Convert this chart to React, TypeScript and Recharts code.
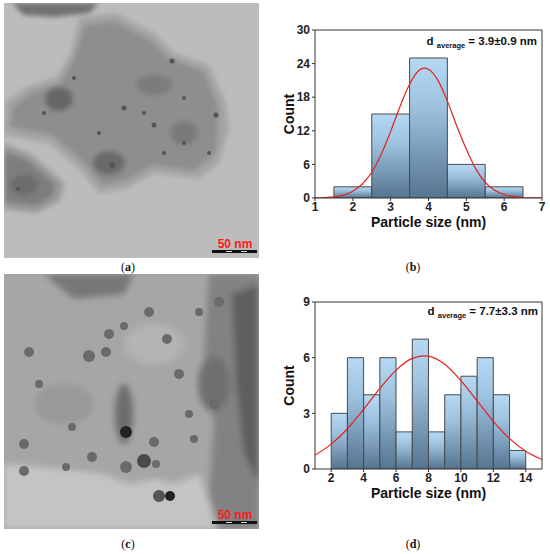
import React from 'react';
import {
  ComposedChart,
  Bar,
  Line,
  XAxis,
  YAxis,
  ReferenceLine,
} from 'recharts';

// panel (b): histogram bins (centre, count) and the Gaussian fit
const binsB = [2, 3, 4, 5, 6];
const countsB = [2, 15, 25, 6, 2];
const fitXB = [1, 1.25, 1.5, 1.75, 2, 2.25, 2.5, 2.75, 3, 3.25, 3.5, 3.75, 3.9, 4, 4.25, 4.5, 4.75, 5, 5.25, 5.5, 5.75, 6, 6.25, 6.5, 6.75, 7];
const fitYB = [0.02, 0.07, 0.2, 0.52, 1.2, 2.5, 4.6, 7.8, 11.9, 16.4, 20.3, 22.8, 23.2, 23.0, 21.0, 17.3, 12.8, 8.7, 5.2, 2.8, 1.4, 0.62, 0.25, 0.09, 0.03, 0.01];
const xTicksB = [1, 2, 3, 4, 5, 6, 7];
const yTicksB = [0, 6, 12, 18, 24, 30];

// panel (d)
const binsD = [2.5, 3.5, 4.5, 5.5, 6.5, 7.5, 8.5, 9.5, 10.5, 11.5, 12.5, 13.5];
const countsD = [3, 6, 4, 6, 2, 7, 2, 4, 5, 6, 4, 1];
const fitXD = [1, 2, 3, 4, 5, 6, 7, 7.7, 8, 9, 10, 11, 12, 13, 14, 15];
const fitYD = [0.75, 1.34, 2.17, 3.22, 4.34, 5.33, 5.96, 6.1, 6.08, 5.64, 4.76, 3.67, 2.57, 1.64, 0.96, 0.51];
const xTicksD = [2, 4, 6, 8, 10, 12, 14];
const yTicksD = [0, 3, 6, 9];

const FONT = '"Liberation Sans", Arial, sans-serif';
const SERIF = '"Liberation Serif", "DejaVu Serif", serif';
const AXIS = '#333';

type HistProps = {
  id: string;
  bins: number[];
  counts: number[];
  fitX: number[];
  fitY: number[];
  xDomain: [number, number];
  yDomain: [number, number];
  xTicks: number[];
  yTicks: number[];
  marginTop: number;
  height: number;
};

const Histogram = ({ id, bins, counts, fitX, fitY, xDomain, yDomain, xTicks, yTicks, marginTop, height }: HistProps) => {
  const data = bins.map((x, i) => ({ x, count: counts[i] }));
  const fit = fitX.map((x, i) => ({ x, y: fitY[i] }));
  const plotWidth = 270 - 35 - 8;
  // a hair under the band so recharts does not shrink the bars to 90%
  const barSize = plotWidth / (xDomain[1] - xDomain[0]) - 0.05;
  const tickStyle = { fontSize: 12, fontWeight: 700, fill: '#222', fontFamily: FONT };

  return (
    <ComposedChart
      width={270}
      height={height}
      data={data}
      barCategoryGap={0}
      barGap={0}
      margin={{ top: marginTop, right: 8, bottom: 2, left: 5 }}
    >
      <defs>
        <linearGradient id={id} x1="0" y1="0" x2="0" y2="1">
          <stop offset="0%" stopColor="#b6d9f4" />
          <stop offset="35%" stopColor="#9dc2df" />
          <stop offset="100%" stopColor="#55748f" />
        </linearGradient>
      </defs>
      {/* hidden axis for the bars only, so the band size comes from the bins */}
      <XAxis xAxisId="bins" dataKey="x" type="number" domain={xDomain} allowDataOverflow hide height={0} />
      <XAxis
        dataKey="x"
        type="number"
        domain={xDomain}
        ticks={xTicks}
        allowDataOverflow
        height={40}
        stroke={AXIS}
        tickSize={3}
        tickMargin={1}
        tick={tickStyle}
        label={{
          value: 'Particle size (nm)',
          position: 'insideBottom',
          offset: 11,
          style: { fontSize: 14, fontWeight: 700, fill: '#111', fontFamily: FONT },
        }}
      />
      <YAxis
        type="number"
        domain={yDomain}
        ticks={yTicks}
        allowDataOverflow
        width={30}
        stroke={AXIS}
        tickSize={3}
        tickMargin={2}
        tick={tickStyle}
        label={{
          value: 'Count',
          angle: -90,
          position: 'insideLeft',
          offset: 4,
          style: { fontSize: 14, fontWeight: 700, fill: '#111', fontFamily: FONT, textAnchor: 'middle' },
        }}
      />
      <ReferenceLine y={yDomain[1]} stroke={AXIS} />
      <ReferenceLine x={xDomain[1]} stroke={AXIS} />
      <Bar
        xAxisId="bins"
        dataKey="count"
        barSize={barSize}
        fill={`url(#${id})`}
        stroke="#4a4a4a"
        strokeWidth={1}
        isAnimationActive={false}
      />
      <Line data={fit} dataKey="y" type="monotone" stroke="#e6201c" strokeWidth={1.2} dot={false} isAnimationActive={false} />
    </ComposedChart>
  );
};

const Annotation = ({ right, top, text }: { right: number; top: number; text: string }) => (
  <div
    style={{
      position: 'absolute',
      right,
      top,
      fontFamily: FONT,
      fontWeight: 700,
      fontSize: 11.5,
      lineHeight: 1,
      color: '#111',
      whiteSpace: 'nowrap',
    }}
  >
    d <span style={{ fontSize: 7.5, position: 'relative', top: 3 }}>average</span> = {text}
  </div>
);

const ScaleBar = () => (
  <g>
    <text x={231} y={245} textAnchor="middle" fill="#ff1a1a" fontFamily={FONT} fontWeight={700} fontSize={12}>
      50 nm
    </text>
    <rect x={208} y={247} width={45} height={3} fill="#111" />
    <rect x={222} y={248} width={6} height={1} fill="#ddd" />
    <rect x={237} y={248} width={6} height={1} fill="#ddd" />
  </g>
);

const TemA = () => (
  <svg width={255} height={255} style={{ display: 'block' }}>
    <defs>
      <filter id="blurA" x="-10%" y="-10%" width="120%" height="120%">
        <feGaussianBlur stdDeviation="2.5" />
      </filter>
    </defs>
    <rect width={255} height={255} fill="#bcbcbc" />
    <g filter="url(#blurA)">
      <path d="M8,0 L95,0 L85,10 L50,14 L20,12 Z" fill="#6f6f6f" />
      <path
        d="M75,14 L112,10 L150,30 L170,50 L205,62 L222,100 L225,125 L215,160 L195,176 L150,170 L122,186 L95,190 L75,166 L45,140 L0,132 L0,100 L22,84 L52,74 L66,52 Z"
        fill="#a4a4a4"
      />
      <path
        d="M80,22 L110,18 L145,36 L165,55 L200,68 L215,105 L212,150 L190,168 L150,162 L120,178 L98,182 L80,160 L48,132 L6,124 L8,104 L28,90 L56,80 L70,56 Z"
        fill="#8e8e8e"
      />
      <path d="M0,140 L28,152 L60,180 L56,198 L32,210 L0,206 Z" fill="#999" />
      <path d="M0,148 L24,158 L52,182 L48,194 L30,203 L0,198 Z" fill="#7d7d7d" />
      <ellipse cx={55} cy={96} rx={14} ry={12} fill="#666" />
      <ellipse cx={105} cy={160} rx={16} ry={12} fill="#6a6a6a" />
      <ellipse cx={150} cy={82} rx={18} ry={10} fill="#7c7c7c" />
      <ellipse cx={180} cy={130} rx={14} ry={12} fill="#7a7a7a" />
      <ellipse cx={20} cy={182} rx={14} ry={10} fill="#6c6c6c" />
    </g>
    <g fill="#555">
      <circle cx={168} cy={58} r={2.5} />
      <circle cx={120} cy={105} r={2.5} />
      <circle cx={140} cy={110} r={2} />
      <circle cx={150} cy={122} r={2.5} />
      <circle cx={212} cy={112} r={2.5} />
      <circle cx={95} cy={130} r={2} />
      <circle cx={180} cy={140} r={2} />
      <circle cx={205} cy={150} r={2} />
      <circle cx={70} cy={75} r={2} />
      <circle cx={40} cy={110} r={2} />
      <circle cx={180} cy={95} r={2} />
      <circle cx={108} cy={162} r={3} />
      <circle cx={160} cy={150} r={2} />
      <circle cx={14} cy={186} r={2} />
    </g>
    <ScaleBar />
  </svg>
);

const TemC = () => (
  <svg width={255} height={255} style={{ display: 'block' }}>
    <defs>
      <filter id="blurC" x="-10%" y="-10%" width="120%" height="120%">
        <feGaussianBlur stdDeviation="3" />
      </filter>
    </defs>
    <rect width={255} height={255} fill="#a6a6a6" />
    <g filter="url(#blurC)">
      <path d="M0,190 L60,195 L100,200 L125,210 L150,205 L170,210 L195,200 L205,230 L212,255 L0,255 Z" fill="#c4c4c4" />
      <path d="M205,0 L255,0 L255,255 L215,255 L205,220 L210,150 L200,80 Z" fill="#828282" />
      <path d="M228,20 L255,10 L255,210 L240,180 L232,110 Z" fill="#5e5e5e" />
      <path d="M40,0 L130,0 L120,20 L70,25 Z" fill="#777" />
      <ellipse cx={120} cy={140} rx={9} ry={30} fill="#6d6d6d" />
      <ellipse cx={60} cy={130} rx={30} ry={20} fill="#999" />
      <ellipse cx={150} cy={70} rx={30} ry={20} fill="#b4b4b4" />
      <ellipse cx={210} cy={110} rx={16} ry={28} fill="#6f6f6f" />
    </g>
    <g fill="#6a6a6a">
      <circle cx={25} cy={78} r={5} />
      <circle cx={85} cy={82} r={6} />
      <circle cx={102} cy={78} r={5} />
      <circle cx={105} cy={60} r={5} />
      <circle cx={163} cy={65} r={5} />
      <circle cx={120} cy={52} r={4} />
      <circle cx={145} cy={38} r={5} />
      <circle cx={195} cy={38} r={4} />
      <circle cx={215} cy={28} r={5} />
      <circle cx={175} cy={100} r={5} />
      <circle cx={35} cy={110} r={4} />
      <circle cx={20} cy={170} r={5} />
      <circle cx={20} cy={197} r={5} />
      <circle cx={88} cy={183} r={5} />
      <circle cx={122} cy={193} r={6} />
      <circle cx={150} cy={168} r={5} />
      <circle cx={152} cy={190} r={4} />
      <circle cx={190} cy={165} r={4} />
      <circle cx={62} cy={193} r={4} />
      <circle cx={68} cy={153} r={4} />
      <circle cx={185} cy={140} r={4} />
      <circle cx={210} cy={130} r={5} />
    </g>
    <circle cx={122} cy={158} r={6} fill="#222" />
    <circle cx={155} cy={222} r={6} fill="#555" />
    <circle cx={166} cy={222} r={5} fill="#222" />
    <circle cx={140} cy={187} r={7} fill="#4a4a4a" />
    <ScaleBar />
  </svg>
);

const Caption = ({ left, top, letter }: { left: number; top: number; letter: string }) => (
  <div
    style={{
      position: 'absolute',
      left: left - 20,
      top,
      width: 40,
      textAlign: 'center',
      fontFamily: SERIF,
      fontSize: 12,
      lineHeight: 1,
      color: '#111',
    }}
  >
    (<b>{letter}</b>)
  </div>
);

const App = () => (
  <div style={{ position: 'absolute', left: 0, top: 0, width: 550, height: 554, background: '#fff', overflow: 'hidden' }}>
    <div style={{ position: 'absolute', left: 4, top: 3 }}>
      <TemA />
    </div>
    <div style={{ position: 'absolute', left: 4, top: 274 }}>
      <TemC />
    </div>
    <div style={{ position: 'absolute', left: 280, top: 0 }}>
      <Histogram
        id="gradB"
        bins={binsB}
        counts={countsB}
        fitX={fitXB}
        fitY={fitYB}
        xDomain={[1, 7]}
        yDomain={[0, 30]}
        xTicks={xTicksB}
        yTicks={yTicksB}
        marginTop={30}
        height={240}
      />
    </div>
    <div style={{ position: 'absolute', left: 280, top: 270 }}>
      <Histogram
        id="gradD"
        bins={binsD}
        counts={countsD}
        fitX={fitXD}
        fitY={fitYD}
        xDomain={[1, 15]}
        yDomain={[0, 9]}
        xTicks={xTicksD}
        yTicks={yTicksD}
        marginTop={32}
        height={241}
      />
    </div>
    <Annotation right={13} top={36} text="3.9±0.9 nm" />
    <Annotation right={12} top={306} text="7.7±3.3 nm" />
    <Caption left={128} top={261} letter="a" />
    <Caption left={413} top={261} letter="b" />
    <Caption left={128} top={538} letter="c" />
    <Caption left={413} top={538} letter="d" />
  </div>
);

export default App;
